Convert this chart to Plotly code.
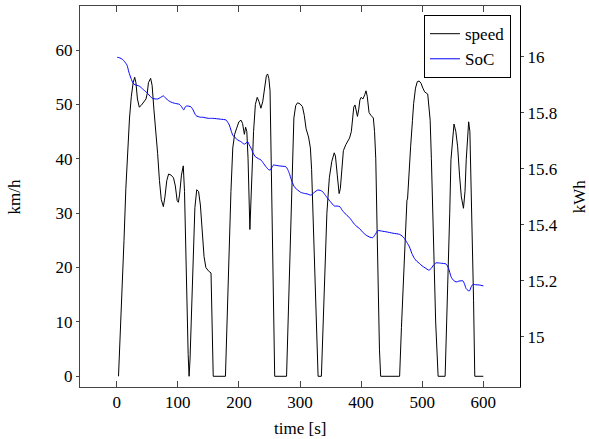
import plotly.graph_objects as go

# speed profile [s] -> [km/h]
speed_t = [3, 5, 7, 9, 12, 15, 18, 21, 24, 27, 29.5, 31.5, 34, 37, 40, 44, 48, 50, 52, 55.6,
           58, 61, 64.3, 67, 70, 73, 76.4, 79, 82, 85, 89, 93, 96, 99, 101, 103, 106, 109,
           111, 113, 115, 117, 118.5, 120, 122, 125, 128, 131, 134, 137, 140, 143, 146, 150,
           154.4, 156, 158, 178, 181, 184, 187, 190, 193, 196, 200, 203.5, 206, 209, 211, 213,
           215, 218, 220, 222, 224, 227, 230, 233, 236, 239, 242, 245, 247, 249, 251, 253, 255,
           257, 258.6, 278, 281, 284, 287, 290, 293, 296, 300, 304, 307, 310, 314, 317, 319, 322,
           325, 327, 329.6, 335, 338, 341, 344, 348, 352, 356, 358, 361, 364, 366, 368, 371, 375,
           378, 381, 384, 386, 388, 390, 392, 394, 396, 398, 400, 403, 406, 408, 410, 413, 416,
           420, 422, 424, 426, 428, 430, 432, 463, 466, 468, 471, 473, 475, 476, 478, 481, 484,
           486, 489, 492, 495, 498, 501, 504, 509, 511, 513, 515, 517, 519, 522, 526, 537.5, 540,
           543.5, 545, 547, 550, 552, 555, 558, 561, 564, 567.5, 570, 572, 574, 576, 578, 580,
           582, 584, 586, 600]
speed_v = [0, 5, 11.6, 14.5, 25, 34.5, 42, 47.5, 51.5, 54, 55, 54, 51, 49.5, 49.8, 50.4, 51, 52, 54, 54.8,
           53.5, 49, 45.3, 41, 36, 32.5, 31.2, 33, 36, 37.2, 37, 36.5, 35, 32.3, 32, 33.5, 37, 38.7,
           34, 23, 12, 4, 0, 3, 10, 22, 31, 34.3, 34, 31.5, 27, 22, 20, 19.4,
           19, 12, 0, 0, 12, 23, 34, 42, 44.5, 45.5, 46.8, 47.1, 46.5, 44.5, 45.8, 45,
           40, 27, 33, 40, 45, 50, 51.3, 50.5, 49.3, 50.5, 53, 55.3, 55.6, 54.8, 52.5, 40, 25,
           10, 0, 0, 12, 28, 40, 47.5, 49.8, 50.3, 50.1, 49.6, 48, 45.5, 44, 42, 38, 27,
           17, 8, 0, 0, 10, 21, 30, 36.5, 39.5, 41.1, 40.5, 37, 33.6, 34.5, 38, 41.5, 42.6,
           43.1, 43.8, 45, 47, 49.5, 49.9, 48.8, 47.8, 49, 50.8, 51.3, 51, 51.8, 52.5, 51.5, 48.5, 48,
           47.5, 45, 40, 28, 15, 5, 0, 0, 9, 14.6, 22, 28, 32.4, 32.6, 37, 42.2, 47,
           50.2, 53, 54.2, 54.3, 53.9, 53, 52.3, 51.9, 50, 47.1, 40, 30, 20, 10, 0, 0, 10,
           22.6, 30, 39.8, 45, 46.4, 45, 42.2, 37, 33, 30.9, 34, 39.8, 44, 46.8, 45, 36,
           27, 14, 0, 0]

# battery state of charge [s] -> [kWh]
soc_t = [1, 5, 9.8, 13, 16.9, 20, 23.4, 27, 30, 37, 44, 50.7, 55, 59, 67, 72, 76.4, 80, 83.5, 89,
         94.3, 102.5, 106, 109.7, 112, 114.6, 121.6, 125, 129.8, 136.9, 140.8, 150, 157, 170, 179,
         182, 184.4, 187, 190, 198, 203, 209, 214.5, 217, 220, 223, 227, 232, 236.3, 240, 244.4,
         248, 251, 254, 256.4, 266.3, 277, 280, 282.6, 286, 289.2, 292, 296.3, 301, 307.2, 312,
         318, 323, 329, 333, 337.2, 341, 345.4, 350, 356.2, 361, 365.6, 369, 372.6, 377, 380.8,
         385, 389, 393, 397.2, 402, 408.2, 414, 419, 423, 427.3, 435, 440.9, 452, 462.7, 467,
         470.9, 475, 479.1, 483, 487.2, 491, 495.4, 500, 505, 510.8, 514.6, 518, 522.8, 530,
         539.1, 543, 547.3, 551, 555.5, 560, 563.7, 566.5, 569, 571.9, 574.7, 577.3, 580, 582.8,
         588, 593.6, 600]
soc_kwh = [15.998, 15.996, 15.99, 15.982, 15.97, 15.945, 15.923, 15.905, 15.9, 15.895, 15.882, 15.869,
           15.858, 15.851, 15.849, 15.855, 15.86, 15.853, 15.845, 15.838, 15.834, 15.83, 15.822, 15.81,
           15.82, 15.824, 15.821, 15.81, 15.79, 15.784, 15.784, 15.78, 15.78, 15.777, 15.774, 15.765,
           15.756, 15.738, 15.72, 15.703, 15.697, 15.688, 15.696, 15.685, 15.673, 15.657, 15.643,
           15.636, 15.631, 15.62, 15.607, 15.598, 15.595, 15.605, 15.613, 15.61, 15.607, 15.597,
           15.583, 15.56, 15.542, 15.532, 15.524, 15.516, 15.512, 15.51, 15.506, 15.515, 15.524,
           15.523, 15.518, 15.507, 15.494, 15.482, 15.467, 15.467, 15.464, 15.452, 15.443, 15.433,
           15.426, 15.414, 15.402, 15.394, 15.387, 15.375, 15.363, 15.356, 15.354, 15.365, 15.379,
           15.377, 15.375, 15.37, 15.366, 15.36, 15.351, 15.337, 15.321, 15.298, 15.28, 15.27,
           15.262, 15.253, 15.246, 15.238, 15.244, 15.255, 15.264, 15.263, 15.26, 15.245, 15.214,
           15.202, 15.196, 15.199, 15.2, 15.2, 15.19, 15.172, 15.166, 15.164, 15.178, 15.187,
           15.186, 15.185, 15.182]

x_ticks = [0, 100, 200, 300, 400, 500, 600]
speed_ticks = [0, 10, 20, 30, 40, 50, 60]
soc_ticks = [15, 15.2, 15.4, 15.6, 15.8, 16]
soc_tick_text = ["15", "15.2", "15.4", "15.6", "15.8", "16"]

font = "Liberation Serif, DejaVu Serif, serif"
frame = "#444444"
x_range = [-60, 660]
y_range = [-1.97, 68.1]
y2_range = [14.821, 16.181]

fig = go.Figure()
fig.add_trace(go.Scatter(x=speed_t, y=speed_v, mode="lines", name="speed",
                         line=dict(color="black", width=1)))
fig.add_trace(go.Scatter(x=soc_t, y=soc_kwh, mode="lines", name="SoC", yaxis="y2",
                         line=dict(color="#0000ff", width=1, shape="spline", smoothing=0.6)))

common = dict(showgrid=False, zeroline=False, automargin=False)

fig.update_layout(
    width=589, height=439,
    margin=dict(l=80, r=69, t=6, b=52),
    paper_bgcolor="white", plot_bgcolor="white",
    font=dict(family=font, size=17, color="black"),
    xaxis=dict(range=x_range, tickvals=x_ticks, ticks="inside", ticklen=6, tickcolor=frame,
               showline=True, linecolor=frame, linewidth=1, mirror="ticks", **common),
    yaxis=dict(range=y_range, tickvals=speed_ticks, ticks="outside", ticklen=3, tickcolor=frame,
               showline=True, linecolor=frame, linewidth=1, **common),
    yaxis2=dict(range=y2_range, tickvals=soc_ticks, ticktext=soc_tick_text, overlaying="y",
                side="right", ticks="outside", ticklen=3, tickcolor=frame,
                showline=True, linecolor="black", linewidth=1, **common),
    # inner halves of the centred y ticks
    yaxis3=dict(range=y_range, tickvals=speed_ticks, overlaying="y", side="left",
                ticks="inside", ticklen=3, tickcolor=frame, showticklabels=False,
                showline=False, **common),
    yaxis4=dict(range=y2_range, tickvals=soc_ticks, overlaying="y", side="right",
                ticks="inside", ticklen=3, tickcolor=frame, showticklabels=False,
                showline=False, **common),
    legend=dict(x=0.9795, y=0.976, xanchor="right", yanchor="top",
                bgcolor="white", bordercolor="black", borderwidth=1,
                font=dict(size=17), tracegroupgap=0),
    showlegend=True,
)

# axis titles
fig.add_annotation(text="km/h", xref="paper", yref="paper", x=-0.148, y=0.5,
                   textangle=-90, showarrow=False, xanchor="center", yanchor="middle")
fig.add_annotation(text="kWh", xref="paper", yref="paper", x=1.136, y=0.5,
                   textangle=-90, showarrow=False, xanchor="center", yanchor="middle")
fig.add_annotation(text="time [s]", xref="paper", yref="paper", x=0.5, y=-0.108,
                   showarrow=False, xanchor="center", yanchor="middle")

# drop the browser's default page margin so the figure sits at the top-left corner
fig.write_html("out.html", config={"displayModeBar": False},
               post_script="document.body.style.margin = '0';")
